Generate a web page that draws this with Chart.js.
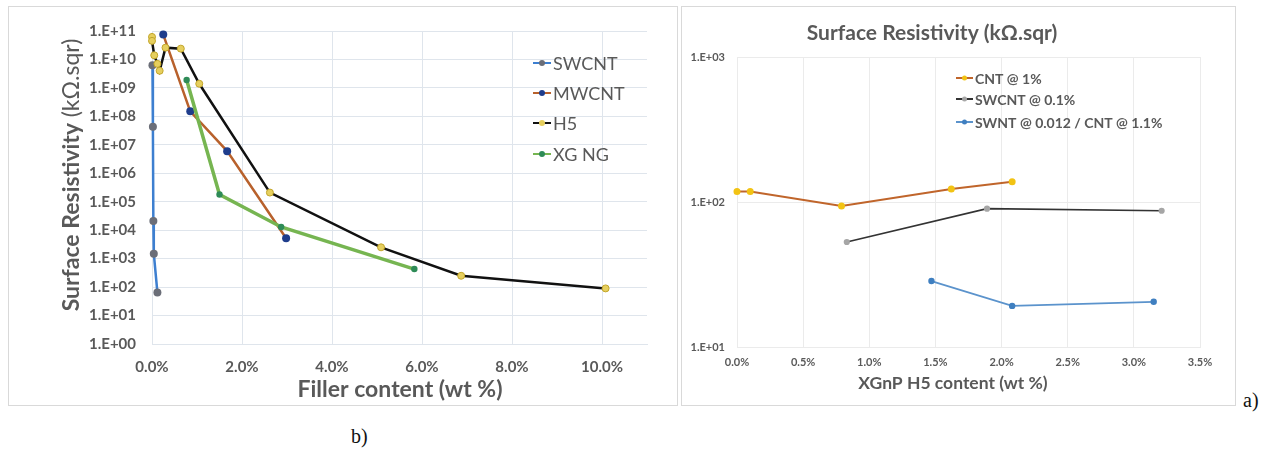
<!DOCTYPE html>
<html>
<head>
<meta charset="utf-8">
<script src="https://cdn.jsdelivr.net/npm/chart.js@4.4.1/dist/chart.umd.min.js"></script>
<style>
  html, body { margin: 0; padding: 0; background: #ffffff; }
  body { width: 1270px; height: 451px; position: relative; overflow: hidden; }
  .panel { position: absolute; border: 1px solid #d9d9d9; box-sizing: border-box; }
  canvas { position: absolute; }
  .tag { position: absolute; font-family: "Liberation Serif", "DejaVu Serif", serif; font-size: 20px; color: #111; line-height: 1; }
</style>
</head>
<body>
<div class="panel" style="left:8px;top:6px;width:670px;height:400px;"></div>
<div class="panel" style="left:681px;top:6px;width:555px;height:400px;"></div>
<canvas id="left" width="669" height="399" style="left:8px;top:6px;"></canvas>
<canvas id="right" width="555" height="400" style="left:681px;top:6px;"></canvas>
<div class="tag" style="left:351px;top:426px;">b)</div>
<div class="tag" style="left:1243px;top:390px;">a)</div>
<script>
// ---------- Left chart (b) data: filler content (wt %) vs surface resistivity (kΩ.sqr)
const leftSeriesNames = ["SWCNT", "MWCNT", "H5", "XG NG"];
const swcntX = [0.01, 0.02, 0.03, 0.04, 0.12];
const swcntY = [6.2e9, 4.3e7, 2.1e4, 1.5e3, 65];
const mwcntX = [0.25, 0.85, 1.67, 2.98];
const mwcntY = [7.5e10, 1.5e8, 6e6, 5.2e3];
const h5X = [0.0, 0.0, 0.05, 0.12, 0.17, 0.30, 0.64, 1.05, 2.62, 5.09, 6.87, 10.08];
const h5Y = [6.2e10, 4.5e10, 1.4e10, 7e9, 4e9, 2.6e10, 2.4e10, 1.4e9, 2.1e5, 2.5e3, 250, 90];
const xgngX = [0.77, 1.5, 2.87, 5.83];
const xgngY = [1.9e9, 1.8e5, 1.3e4, 430];
const leftYTicks = [1, 1e1, 1e2, 1e3, 1e4, 1e5, 1e6, 1e7, 1e8, 1e9, 1e10, 1e11];
const leftXTicks = [0, 2, 4, 6, 8, 10];
const leftYTitleBold = "Surface Resistivity ";
const leftYTitleNormal = "(kΩ.sqr)";
const leftXTitle = "Filler content (wt %)";

// ---------- Right chart (a) data: XGnP H5 content (wt %) vs surface resistivity
const rightTitle = "Surface Resistivity (kΩ.sqr)";
const rightSeriesNames = ["CNT @ 1%", "SWCNT @ 0.1%", "SWNT @ 0.012 / CNT @ 1.1%"];
const cntX = [0.0, 0.1, 0.79, 1.62, 2.08];
const cntY = [118, 118, 94, 123, 138];
const swcnt01X = [0.83, 1.89, 3.21];
const swcnt01Y = [53, 90, 87];
const swntX = [1.47, 2.08, 3.15];
const swntY = [28.5, 19.2, 20.5];
const rightYTicks = [10, 100, 1000];
const rightXTicks = [0, 0.5, 1.0, 1.5, 2.0, 2.5, 3.0, 3.5];
const rightXTitle = "XGnP H5 content (wt %)";

const FONT = "Lato, 'Open Sans', 'Liberation Sans', sans-serif";
const GREY = "#595959";

function pts(xs, ys) { return xs.map((x, i) => ({ x: x, y: ys[i] })); }
function sci(v) {
  const e = Math.round(Math.log10(v));
  return "1.E+" + String(e).padStart(2, "0");
}

function legendPlugin(id, cfg) {
  return {
    id: id,
    afterDraw(chart) {
      const ctx = chart.ctx;
      ctx.save();
      cfg.items.forEach((it, i) => {
        const ds = chart.data.datasets[it];
        const y = cfg.rows[i];
        ctx.strokeStyle = ds.borderColor;
        ctx.lineWidth = cfg.lineWidth;
        ctx.beginPath();
        ctx.moveTo(cfg.x0, y);
        ctx.lineTo(cfg.x1, y);
        ctx.stroke();
        ctx.fillStyle = ds.pointBackgroundColor;
        ctx.beginPath();
        ctx.arc((cfg.x0 + cfg.x1) / 2, y, cfg.r, 0, Math.PI * 2);
        ctx.fill();
        ctx.fillStyle = GREY;
        ctx.font = cfg.font;
        ctx.textBaseline = "middle";
        ctx.textAlign = "left";
        ctx.fillText(ds.label, cfg.tx, y + 1);
      });
      ctx.restore();
    }
  };
}

// ---------- Left chart
const leftTextPlugin = {
  id: "leftText",
  afterDraw(chart) {
    const ctx = chart.ctx;
    ctx.save();
    ctx.fillStyle = GREY;
    ctx.textBaseline = "middle";
    // y title
    ctx.translate(64, 169);
    ctx.rotate(-Math.PI / 2);
    const fb = "bold 23px " + FONT, fn = "23px " + FONT;
    ctx.font = fb; const wb = ctx.measureText(leftYTitleBold).width;
    ctx.font = fn; const wn = ctx.measureText(leftYTitleNormal).width;
    const start = -(wb + wn) / 2;
    ctx.textAlign = "left";
    ctx.font = fb; ctx.fillText(leftYTitleBold, start, 0);
    ctx.font = fn; ctx.fillText(leftYTitleNormal, start + wb, 0);
    ctx.setTransform(1, 0, 0, 1, 0, 0);
    // x title
    ctx.font = "bold 23px " + FONT;
    ctx.textAlign = "center";
    ctx.fillText(leftXTitle, 392, 384);
    ctx.restore();
  }
};

new Chart(document.getElementById("left"), {
  type: "line",
  data: {
    datasets: [
      { label: leftSeriesNames[0], data: pts(swcntX, swcntY), borderColor: "#3d7fd0", borderWidth: 2.5,
        pointBackgroundColor: "#6b6e78", pointBorderColor: "#6b6e78", pointBorderWidth: 0, pointRadius: 4, order: 4, clip: false },
      { label: leftSeriesNames[1], data: pts(mwcntX, mwcntY), borderColor: "#b8612c", borderWidth: 2.5,
        pointBackgroundColor: "#1f3d8c", pointBorderColor: "#1f3d8c", pointBorderWidth: 0, pointRadius: 4, order: 3, clip: false },
      { label: leftSeriesNames[2], data: pts(h5X, h5Y), borderColor: "#111111", borderWidth: 2.5,
        pointBackgroundColor: "#e6cf5e", pointBorderColor: "#c2a52a", pointBorderWidth: 1, pointRadius: 3.5, order: 2, clip: false },
      { label: leftSeriesNames[3], data: pts(xgngX, xgngY), borderColor: "#76b551", borderWidth: 3.5,
        pointBackgroundColor: "#2e8b57", pointBorderColor: "#2e8b57", pointBorderWidth: 0, pointRadius: 3.2, order: 1, clip: false }
    ]
  },
  options: {
    responsive: false, animation: false, devicePixelRatio: 1,
    layout: { padding: { left: 0, top: 18, right: 30, bottom: 0 } },
    plugins: { legend: { display: false }, tooltip: { enabled: false }, title: { display: false } },
    elements: { line: { tension: 0 } },
    scales: {
      x: {
        type: "linear", min: 0, max: 11,
        afterBuildTicks: s => { s.ticks = leftXTicks.map(v => ({ value: v })); },
        afterFit: s => { s.height = 61; },
        ticks: { callback: v => v.toFixed(1) + "%", font: { family: FONT, size: 15, weight: "bold" }, color: GREY, padding: 14, maxRotation: 0, autoSkip: false },
        grid: { color: "#dfe5ec", drawTicks: false, lineWidth: 1 },
        border: { color: "#dfe5ec" }
      },
      y: {
        type: "logarithmic", min: 1, max: 1e11,
        afterBuildTicks: s => { s.ticks = leftYTicks.map(v => ({ value: v })); },
        afterFit: s => { s.width = 144; },
        ticks: { callback: v => sci(v), font: { family: FONT, size: 15, weight: "bold" }, color: GREY, padding: 16, autoSkip: false },
        grid: { color: "#dfe5ec", drawTicks: false, lineWidth: 1 },
        border: { color: "#dfe5ec" }
      }
    }
  },
  plugins: [leftTextPlugin, legendPlugin("leftLegend", {
    items: [0, 1, 2, 3], rows: [57, 87, 117, 148], x0: 525, x1: 543, tx: 545, r: 3, lineWidth: 2,
    font: "18px " + FONT
  })]
});

// ---------- Right chart
const rightTextPlugin = {
  id: "rightText",
  afterDraw(chart) {
    const ctx = chart.ctx;
    ctx.save();
    ctx.fillStyle = GREY;
    ctx.textBaseline = "middle";
    ctx.textAlign = "center";
    ctx.font = "bold 21px " + FONT;
    ctx.fillText(rightTitle, 251, 27);
    ctx.font = "bold 17.5px " + FONT;
    ctx.fillText(rightXTitle, 272, 377);
    ctx.restore();
  }
};

new Chart(document.getElementById("right"), {
  type: "line",
  data: {
    datasets: [
      { label: rightSeriesNames[0], data: pts(cntX, cntY), borderColor: "#c0652b", borderWidth: 2,
        pointBackgroundColor: "#f2c314", pointBorderColor: "#f2c314", pointRadius: 2.5, order: 3, clip: false },
      { label: rightSeriesNames[1], data: pts(swcnt01X, swcnt01Y), borderColor: "#333333", borderWidth: 1.6,
        pointBackgroundColor: "#a6a6a6", pointBorderColor: "#a6a6a6", pointRadius: 2.3, order: 2, clip: false },
      { label: rightSeriesNames[2], data: pts(swntX, swntY), borderColor: "#5b93cc", borderWidth: 1.8,
        pointBackgroundColor: "#3f7fc0", pointBorderColor: "#3f7fc0", pointRadius: 2.3, order: 1, clip: false }
    ]
  },
  options: {
    responsive: false, animation: false, devicePixelRatio: 1,
    layout: { padding: { left: 0, top: 51, right: 36, bottom: 0 } },
    plugins: { legend: { display: false }, tooltip: { enabled: false }, title: { display: false } },
    elements: { line: { tension: 0 } },
    scales: {
      x: {
        type: "linear", min: 0, max: 3.5,
        afterBuildTicks: s => { s.ticks = rightXTicks.map(v => ({ value: v })); },
        afterFit: s => { s.height = 59; },
        ticks: { callback: v => v.toFixed(1) + "%", font: { family: FONT, size: 11, weight: "bold" }, color: GREY, padding: 9, maxRotation: 0, autoSkip: false },
        grid: { color: "#ebebeb", drawTicks: false },
        border: { color: "#ebebeb" }
      },
      y: {
        type: "logarithmic", min: 10, max: 1000,
        afterBuildTicks: s => { s.ticks = rightYTicks.map(v => ({ value: v })); },
        afterFit: s => { s.width = 56; },
        ticks: { callback: v => sci(v), font: { family: FONT, size: 11, weight: "bold" }, color: GREY, padding: 12, autoSkip: false },
        grid: { color: "#ebebeb", drawTicks: false },
        border: { color: "#ebebeb" }
      }
    }
  },
  plugins: [rightTextPlugin, legendPlugin("rightLegend", {
    items: [0, 1, 2], rows: [72, 93, 116], x0: 275, x1: 292, tx: 294, r: 2.5, lineWidth: 2,
    font: "bold 14px " + FONT
  })]
});
</script>
</body>
</html>
